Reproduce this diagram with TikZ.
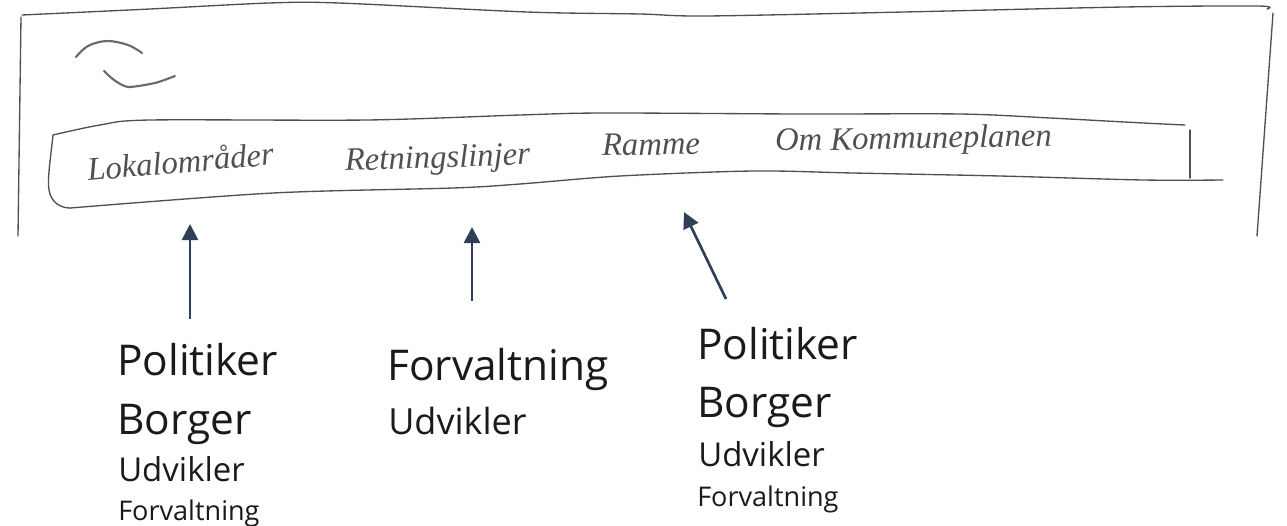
\documentclass[tikz,border=0pt]{standalone}
\usepackage{fontspec}
\setmainfont{Open Sans}
\newfontfamily\handfont{Liberation Serif}
\usetikzlibrary{arrows.meta}
\definecolor{ink}{HTML}{505050}
\definecolor{navy}{HTML}{2F3F56}
\definecolor{txt}{HTML}{1A1A1A}
\tikzset{
  x=0.75pt,y=-0.75pt,
  sketch/.style={draw=ink,line width=1pt,line cap=round,line join=round},
  logoline/.style={sketch,line width=1.6pt,draw=ink!85},
  hand/.style={inner sep=0pt,anchor=base west,text=ink,font=\handfont\itshape\fontsize{24.5}{24.5}\selectfont},
  big/.style={inner sep=0pt,anchor=base west,text=txt,font=\fontsize{31.8}{31.8}\selectfont},
  mid/.style={inner sep=0pt,anchor=base west,text=txt,font=\fontsize{24.7}{24.7}\selectfont},
  midb/.style={inner sep=0pt,anchor=base west,text=txt,font=\fontsize{27}{27}\selectfont},
  small/.style={inner sep=0pt,anchor=base west,text=txt,font=\fontsize{20.3}{20.3}\selectfont},
  pointer/.style={draw=navy,line width=2pt,-{Triangle[length=12pt,width=12pt]}},
}
\begin{document}
\begin{tikzpicture}
\useasboundingbox (0,0) rectangle (1287,525);
% page outline
\draw[sketch] plot[smooth,tension=0.5] coordinates {(22,15) (150,9) (269,3) (339,3) (527,12) (640,14) (706,16) (904,12) (1124,7) (1258,6) (1267,9)};
\draw[sketch] (21,17) -- (18,236);
\draw[sketch] (1273,13) -- (1257,236);
% logo
\draw[logoline] plot[smooth,tension=0.6] coordinates {(76,57) (88,46) (107,41) (128,45) (142,53)};
\draw[logoline] plot[smooth,tension=0.4] coordinates {(104,71) (114,80) (128,87) (155,83) (175,76)};
% navigation band
\draw[sketch] plot[smooth,tension=0.5] coordinates {(53,135) (100,125) (150,120) (367,120) (520,115) (603,113) (800,114) (960,114) (1050,118) (1143,123) (1185,125)};
\draw[sketch] (53,135) .. controls (51,155) and (47,180) .. (49,190) .. controls (51,202) and (60,208) .. (70,208);
\draw[sketch] plot[smooth,tension=0.5] coordinates {(70,208) (273,193) (453,188) (520,184) (620,176) (753,171) (853,173) (1000,176) (1143,180) (1223,180)};
\draw[sketch] (1190,130) -- (1190,178);
% handwritten items
\node[hand,rotate=5] (n1) at (88,181) {Lokalområder};
\node[hand,rotate=2] (n2) at (345,171) {Retningslinjer};
\node[hand,rotate=1] (n3) at (602,156) {Ramme};
\node[hand,rotate=1] (n4) at (775,151) {Om Kommuneplanen};
% column 1
\node[big] (a1) at (117,375) {Politiker};
\node[big] (a2) at (117,434) {Borger};
\node[mid] (a3) at (118,481) {Udvikler};
\node[small] (a4) at (118,520) {Forvaltning};
% column 2
\node[big] (b1) at (387,380) {Forvaltning};
\node[midb] (b2) at (388,434) {Udvikler};
% column 3
\node[big] (c1) at (697,359) {Politiker};
\node[big] (c2) at (697,417) {Borger};
\node[mid] (c3) at (698,466) {Udvikler};
\node[small] (c4) at (697,506) {Forvaltning};
% pointers
\coordinate (s1) at (190,319);
\coordinate (t1) at (190,224);
\coordinate (s2) at (472,301);
\coordinate (t2) at (472,227);
\coordinate (s3) at (726,299);
\coordinate (t3) at (684,212);
\draw[pointer] (s1) -- (t1);
\draw[pointer] (s2) -- (t2);
\draw[pointer] (s3) -- (t3);
\end{tikzpicture}
\end{document}
